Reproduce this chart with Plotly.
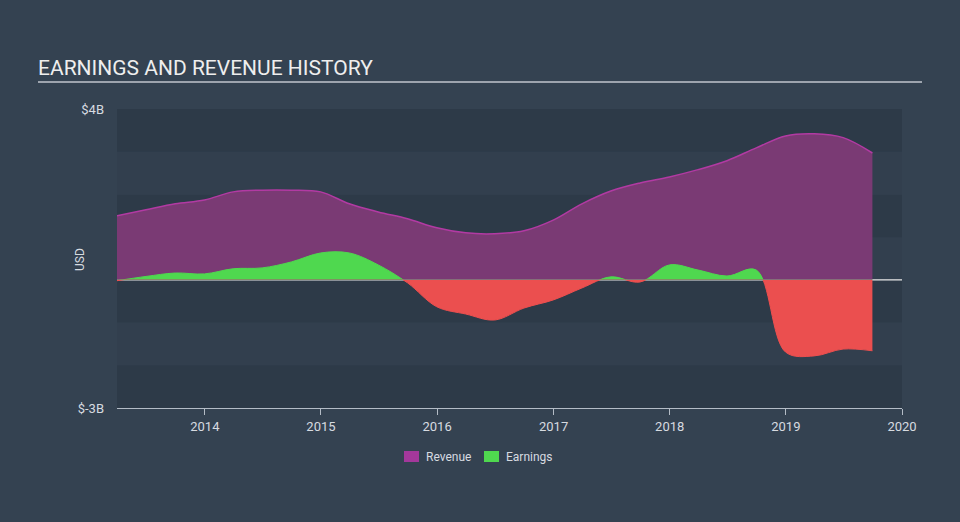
import plotly.graph_objects as go

dates = ["2013-03-31", "2013-06-30", "2013-09-30", "2013-12-31",
         "2014-03-31", "2014-06-30", "2014-09-30", "2014-12-31",
         "2015-03-31", "2015-06-30", "2015-09-30", "2015-12-31",
         "2016-03-31", "2016-06-30", "2016-09-30", "2016-12-31",
         "2017-03-31", "2017-06-30", "2017-09-30", "2017-12-31",
         "2018-03-31", "2018-06-30", "2018-09-30", "2018-12-31",
         "2019-03-31", "2019-06-30", "2019-09-30"]
revenue = [1.50, 1.64, 1.78, 1.87, 2.06, 2.10, 2.10, 2.06,
           1.78, 1.59, 1.43, 1.22, 1.10, 1.08, 1.15, 1.40,
           1.78, 2.08, 2.27, 2.41, 2.58, 2.79, 3.09, 3.37,
           3.42, 3.33, 2.97]
earnings = [-0.02, 0.08, 0.16, 0.14, 0.26, 0.28, 0.42, 0.63,
            0.63, 0.35, -0.07, -0.63, -0.80, -0.94, -0.66, -0.47,
            -0.19, 0.07, -0.05, 0.35, 0.23, 0.09, 0.23, -1.69,
            -1.78, -1.62, -1.66]
y_ticks = [-3, 4]
y_tick_text = ["$-3B", "$4B"]
x_ticks = ["2014-01-01", "2015-01-01", "2016-01-01", "2017-01-01",
           "2018-01-01", "2019-01-01", "2020-01-01"]
x_tick_text = ["2014", "2015", "2016", "2017", "2018", "2019", "2020"]
legend_names = ["Revenue", "Earnings"]

YMIN, YMAX = -3, 4
zero_frac = (0 - YMIN) / (YMAX - YMIN)

PAPER = "#344251"
DARK_BAND = "#2d3a48"
LIGHT_BAND = "#323f4e"
REV_FILL = "#7a3a74"
REV_LINE = "#b23aa3"
GREEN = "#4fd84f"
RED = "#eb4f4f"
TEXT = "#d7dbe0"

L, R, T, B = 117, 58, 109, 114
PW, PH = 960 - L - R, 522 - T - B


def px_x(px):
    return (px - L) / PW


def px_y(py):
    return (522 - B - py) / PH


fig = go.Figure()

fig.add_trace(go.Scatter(
    x=dates, y=revenue, mode="lines", line=dict(color=REV_LINE, width=1.5, shape="spline"),
    fill="tozeroy", fillcolor=REV_FILL, showlegend=False, hoverinfo="skip",
    xaxis="x", yaxis="y"))

# positive earnings (clipped by upper subplot)
fig.add_trace(go.Scatter(
    x=dates, y=earnings, mode="lines", line=dict(color=GREEN, width=1, shape="spline"),
    fill="tozeroy", fillcolor=GREEN, showlegend=False, hoverinfo="skip",
    xaxis="x", yaxis="y2"))
# negative earnings (clipped by lower subplot)
fig.add_trace(go.Scatter(
    x=dates, y=earnings, mode="lines", line=dict(color=RED, width=1, shape="spline"),
    fill="tozeroy", fillcolor=RED, showlegend=False, hoverinfo="skip",
    xaxis="x", yaxis="y3"))

shapes = []
for lo in range(YMIN, YMAX):
    band_dark = (lo - YMAX + 1) % 2 == 0
    shapes.append(dict(type="rect", xref="paper", yref="y", x0=0, x1=1, y0=lo, y1=lo + 1,
                       fillcolor=DARK_BAND if band_dark else LIGHT_BAND,
                       line=dict(width=0), layer="below"))
# title underline
shapes.append(dict(type="line", xref="paper", yref="paper",
                   x0=px_x(38), x1=px_x(922), y0=px_y(82), y1=px_y(82),
                   line=dict(color="#c0c6ce", width=1.5)))
# zero line
shapes.append(dict(type="line", xref="paper", yref="y", x0=0, x1=1, y0=0, y1=0,
                   line=dict(color="#e8e8e8", width=1.2), layer="below"))

annotations = [dict(text="USD", xref="paper", yref="paper", x=px_x(80), y=px_y(260),
                    textangle=-90, showarrow=False, font=dict(size=12, color=TEXT),
                    xanchor="center", yanchor="middle")]

# manual legend
legend_colors = ["#a3389b", GREEN]
legend_sq_x = [404, 484]
for name, col, sx in zip(legend_names, legend_colors, legend_sq_x):
    shapes.append(dict(type="rect", xref="paper", yref="paper",
                       x0=px_x(sx), x1=px_x(sx + 15), y0=px_y(462), y1=px_y(451),
                       fillcolor=col, line=dict(width=0)))
    annotations.append(dict(text=name, xref="paper", yref="paper", x=px_x(sx + 20), y=px_y(456.5),
                            showarrow=False, xanchor="left", yanchor="middle",
                            font=dict(size=12, color=TEXT)))

fig.update_layout(
    width=960, height=522,
    margin=dict(l=L, r=R, t=T, b=B, autoexpand=False),
    paper_bgcolor=PAPER, plot_bgcolor="rgba(0,0,0,0)",
    font=dict(family="Roboto, sans-serif", color=TEXT, size=12),
    title=dict(text="EARNINGS AND REVENUE HISTORY", xref="container", yref="container",
               x=38 / 960, y=1 - 68 / 522, xanchor="left", yanchor="middle",
               font=dict(size=21, color="#eeeeee", family="Roboto, sans-serif")),
    xaxis=dict(type="date", range=[dates[0], "2020-01-01"], tickvals=x_ticks, ticktext=x_tick_text,
               showgrid=False, zeroline=False, showline=True, linecolor="#b4bcc6", linewidth=1.2,
               ticks="outside", ticklen=6, tickcolor="#b4bcc6", tickfont=dict(size=13, color=TEXT),
               automargin=False, fixedrange=True),
    yaxis=dict(range=[YMIN, YMAX], tickvals=y_ticks, ticktext=y_tick_text, showgrid=False,
               zeroline=False, showline=False, tickfont=dict(size=13, color=TEXT),
               ticklabelstandoff=12, automargin=False, domain=[0, 1]),
    yaxis2=dict(range=[0, YMAX], domain=[zero_frac, 1], visible=False, anchor="x"),
    yaxis3=dict(range=[YMIN, 0], domain=[0, zero_frac], visible=False, anchor="x"),
    shapes=shapes,
    annotations=annotations,
    showlegend=False,
)

fig.write_html("out.html")
